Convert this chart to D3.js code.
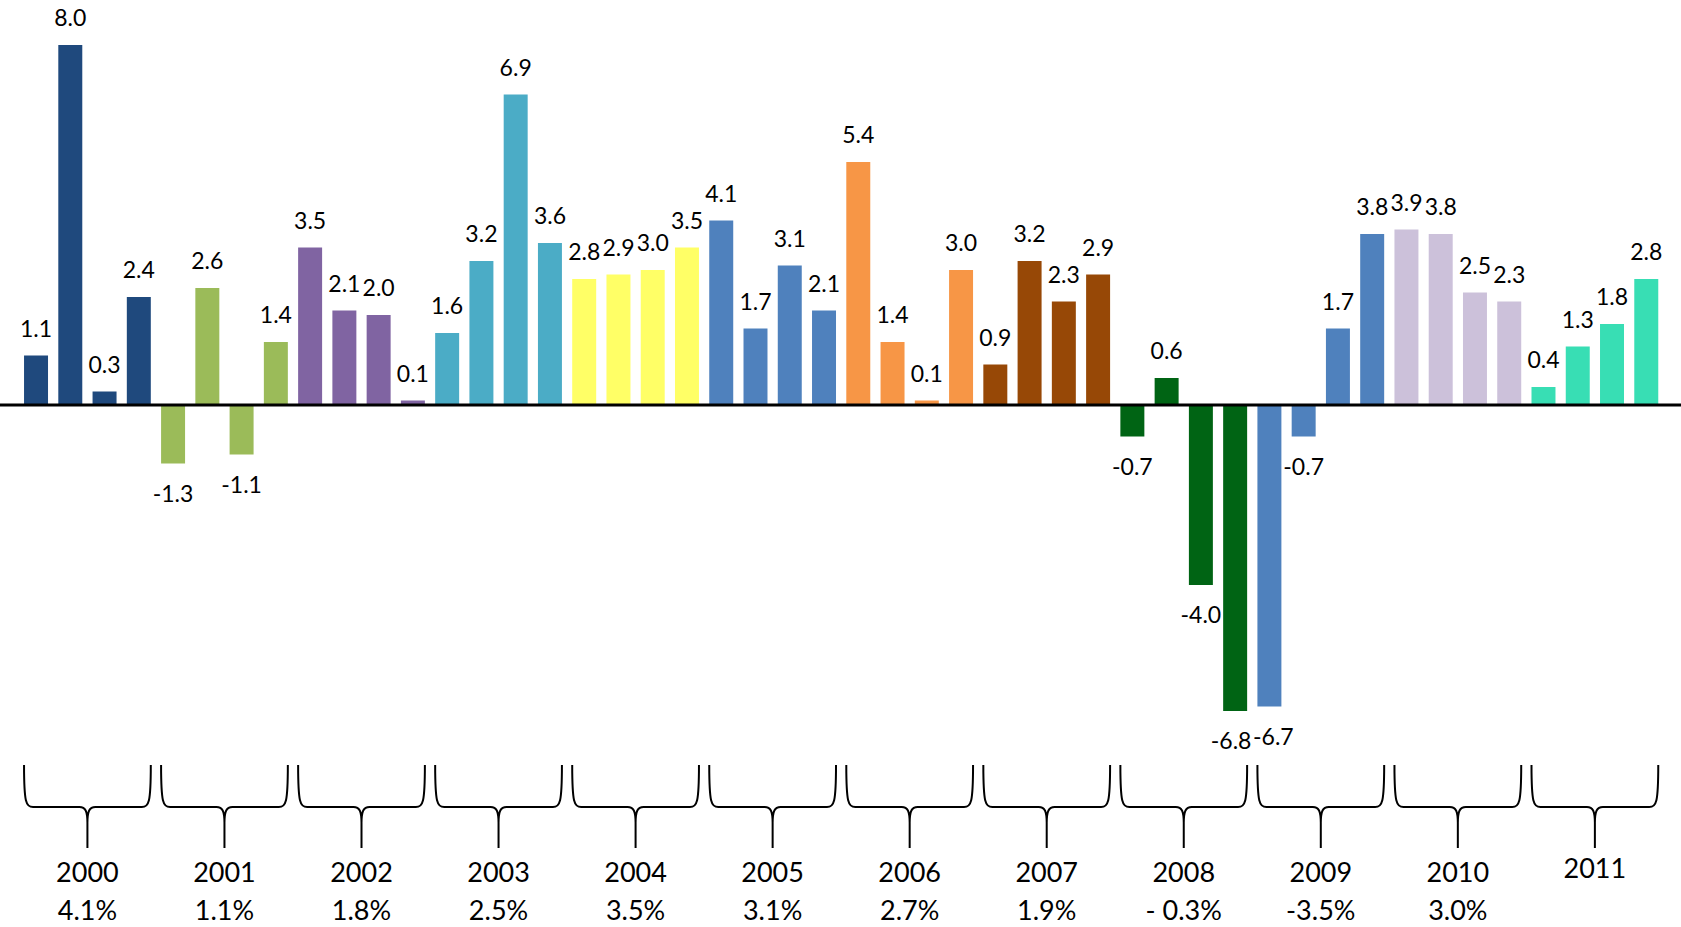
<!DOCTYPE html>
<html>
<head>
<meta charset="utf-8">
<script src="https://cdn.jsdelivr.net/npm/d3@7"></script>
<style>
  body { margin: 0; background: #fff; }
  text { font-family: Lato, "Open Sans", sans-serif; fill: #000; }
</style>
</head>
<body>
<svg id="chart" width="1681" height="927"></svg>
<script>
// years and annual growth under the braces
var years = ['2000', '2001', '2002', '2003', '2004', '2005', '2006', '2007', '2008', '2009', '2010', '2011'];
var annualGrowth = ['4.1%', '1.1%', '1.8%', '2.5%', '3.5%', '3.1%', '2.7%', '1.9%', '- 0.3%', '-3.5%', '3.0%', ''];

// quarterly values, one row per year
var quarterly = [
    [1.1, 8.0, 0.3, 2.4],
    [-1.3, 2.6, -1.1, 1.4],
    [3.5, 2.1, 2.0, 0.1],
    [1.6, 3.2, 6.9, 3.6],
    [2.8, 2.9, 3.0, 3.5],
    [4.1, 1.7, 3.1, 2.1],
    [5.4, 1.4, 0.1, 3.0],
    [0.9, 3.2, 2.3, 2.9],
    [-0.7, 0.6, -4.0, -6.8],
    [-6.7, -0.7, 1.7, 3.8],
    [3.9, 3.8, 2.5, 2.3],
    [0.4, 1.3, 1.8, 2.8]
];

var yearColors = ['#1f497d', '#9bbb59', '#8064a2', '#4bacc6', '#ffff66', '#4f81bd',
                  '#f79646', '#974806', '#006414', '#4f81bd', '#ccc1da', '#38deb4'];

// flatten to one bar per quarter
var data = [];
quarterly.forEach(function(q, yi) {
    q.forEach(function(v, qi) {
        data.push({ id: yi * 4 + qi, year: yi, value: v });
    });
});

var svg = d3.select('#chart');

var x = d3.scaleBand()
    .domain(data.map(function(d) { return d.id; }))
    .range([18.9, 1663.4])
    .paddingInner(0.3)
    .paddingOuter(0.15);

var y = d3.scaleLinear()
    .domain([-9, 9])
    .range([810, 0]);

// bars
svg.append('g')
    .selectAll('rect')
    .data(data)
    .enter()
    .append('rect')
    .attr('x', function(d) { return x(d.id); })
    .attr('y', function(d) { return y(Math.max(0, d.value)); })
    .attr('width', x.bandwidth())
    .attr('height', function(d) { return Math.abs(y(d.value) - y(0)); })
    .attr('fill', function(d) { return yearColors[d.year]; });

// push apart two deep negative labels sitting side by side
function nudge(d, i) {
    var prev = data[i - 1], next = data[i + 1];
    if (d.value < -3 && next && next.value < -3 && Math.abs(next.value - d.value) < 0.5) return -4;
    if (d.value < -3 && prev && prev.value < -3 && Math.abs(prev.value - d.value) < 0.5) return 4;
    return 0;
}

// value labels
svg.append('g')
    .selectAll('text')
    .data(data)
    .enter()
    .append('text')
    .attr('x', function(d, i) { return x(d.id) + x.bandwidth() / 2 + nudge(d, i); })
    .attr('y', function(d) { return d.value >= 0 ? y(d.value) - 19 : y(d.value) + 38; })
    .attr('text-anchor', 'middle')
    .style('font-size', '23px')
    .text(function(d) { return d.value.toFixed(1); });

// zero line across the page
svg.append('line')
    .attr('x1', 0)
    .attr('x2', 1681)
    .attr('y1', y(0))
    .attr('y2', y(0))
    .attr('stroke', '#000')
    .attr('stroke-width', 3);

// braces under each year
var braceTop = 765, braceMid = 807, braceTip = 848;
function bracePath(x0, x1) {
    var cx = (x0 + x1) / 2;
    return 'M' + x0 + ',' + braceTop +
        ' C' + x0 + ',' + (braceMid - 4) + ' ' + (x0 + 2) + ',' + braceMid + ' ' + (x0 + 9) + ',' + braceMid +
        ' L' + (cx - 8) + ',' + braceMid +
        ' C' + (cx - 2) + ',' + braceMid + ' ' + cx + ',' + (braceMid + 4) + ' ' + cx + ',' + (braceMid + 16) +
        ' L' + cx + ',' + braceTip +
        ' M' + cx + ',' + (braceMid + 16) +
        ' C' + cx + ',' + (braceMid + 4) + ' ' + (cx + 2) + ',' + braceMid + ' ' + (cx + 8) + ',' + braceMid +
        ' L' + (x1 - 9) + ',' + braceMid +
        ' C' + (x1 - 2) + ',' + braceMid + ' ' + x1 + ',' + (braceMid - 4) + ' ' + x1 + ',' + braceTop;
}

var groups = svg.append('g')
    .selectAll('g')
    .data(years)
    .enter()
    .append('g');

groups.append('path')
    .attr('d', function(d, i) {
        var x0 = x(i * 4), x1 = x(i * 4 + 3) + x.bandwidth();
        return bracePath(x0, x1);
    })
    .attr('fill', 'none')
    .attr('stroke', '#000')
    .attr('stroke-width', 2);

groups.append('text')
    .attr('x', function(d, i) { return (x(i * 4) + x(i * 4 + 3) + x.bandwidth()) / 2; })
    .attr('y', function(d, i) { return i === 11 ? 878 : 882; })
    .attr('text-anchor', 'middle')
    .style('font-size', '27px')
    .text(function(d) { return d; });

groups.append('text')
    .attr('x', function(d, i) { return (x(i * 4) + x(i * 4 + 3) + x.bandwidth()) / 2; })
    .attr('y', 920)
    .attr('text-anchor', 'middle')
    .style('font-size', '27px')
    .text(function(d, i) { return annualGrowth[i]; });
</script>
</body>
</html>
